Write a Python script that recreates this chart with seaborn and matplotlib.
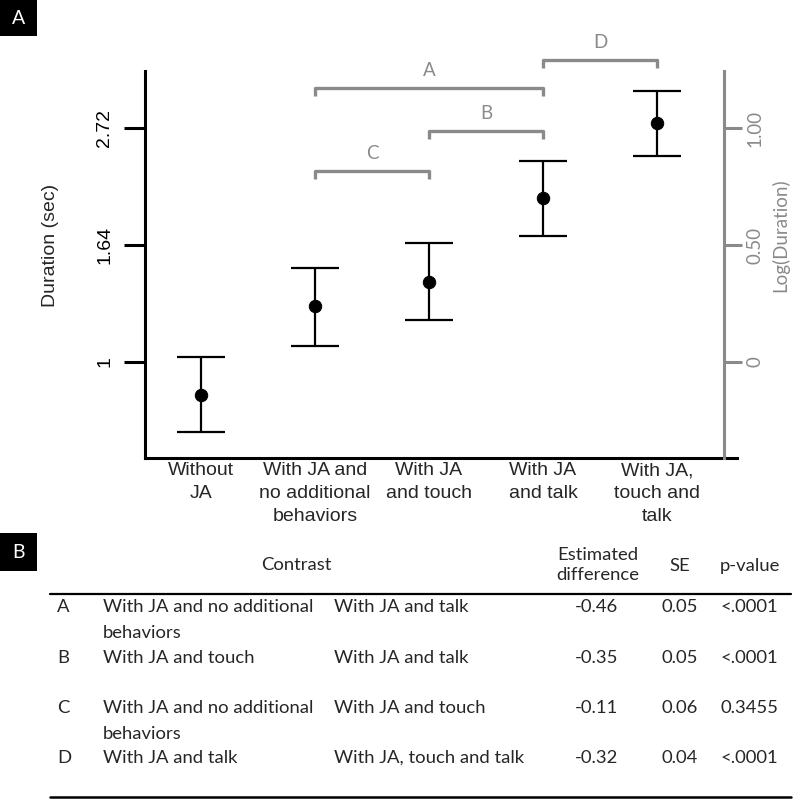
import matplotlib.pyplot as plt
import seaborn as sns
import pandas as pd
from matplotlib.patches import Rectangle

# valores (escala log da duracao)
conditions = ["Without\nJA", "With JA and\nno additional\nbehaviors", "With JA\nand touch",
              "With JA\nand talk", "With JA,\ntouch and\ntalk"]
log_mean = [-0.14, 0.24, 0.34, 0.70, 1.02]
log_lower = [-0.30, 0.07, 0.18, 0.54, 0.88]
log_upper = [0.02, 0.40, 0.51, 0.86, 1.16]

left_ticks = [0, 0.5, 1.0]
left_tick_labels = ["1", "1.64", "2.72"]
right_tick_labels = ["0", "0.50", "1.00"]

# contrastes (tabela B)
contrast_ids = ["A", "B", "C", "D"]
contrast_pairs = [(1, 3), (2, 3), (1, 2), (3, 4)]
group1 = ["With JA and no additional\nbehaviors", "With JA and touch",
          "With JA and no additional\nbehaviors", "With JA and talk"]
group2 = ["With JA and talk", "With JA and talk", "With JA and touch", "With JA, touch and talk"]
est_diff = ["-0.46", "-0.35", "-0.11", "-0.32"]
se = ["0.05", "0.05", "0.06", "0.04"]
p_values = ["<.0001", "<.0001", "0.3455", "<.0001"]

sns.set_style("white")
plt.rcParams["font.family"] = ["Liberation Sans", "DejaVu Sans"]
GRAY = "#8a8a8a"
TFONT = ["Lato", "DejaVu Sans"]
TSIZE = 13.3

W = H = 800.0
fig = plt.figure(figsize=(8, 8), dpi=100)
ax = fig.add_axes([145 / W, 1 - 458 / H, (737 - 145) / W, (458 - 71) / H])

df = pd.DataFrame({"condition": conditions, "log_mean": log_mean,
                   "lower": log_lower, "upper": log_upper})
sns.scatterplot(data=df, x="condition", y="log_mean", ax=ax, color="black",
                s=80, edgecolor="black", zorder=3)
xs = list(range(len(conditions)))
ax.errorbar(xs, df["log_mean"], yerr=[df["log_mean"] - df["lower"], df["upper"] - df["log_mean"]],
            fmt="none", ecolor="black", elinewidth=1.6, capsize=17.5, capthick=1.6, zorder=2)

ax.set_xlim(-0.491, 4.702)
ax.set_ylim(-0.410, 1.2436)
for s in ["top", "right"]:
    ax.spines[s].set_visible(False)
for s in ["left", "bottom"]:
    ax.spines[s].set_linewidth(2.2)
    ax.spines[s].set_color("black")

ax.set_xticks(xs)
ax.set_xticklabels(conditions, fontsize=14, linespacing=1.45)
ax.tick_params(axis="x", length=0, pad=3)
ax.set_xlabel("")

ax.set_yticks(left_ticks)
ax.set_yticklabels(left_tick_labels, rotation=90, va="center", fontsize=14)
ax.tick_params(axis="y", length=15, width=2.2, direction="out", pad=8, colors="black")
ax.set_ylabel("Duration (sec)", fontsize=14)
ax.yaxis.set_label_coords(-0.145, 0.55)

# eixo direito em cinza
ax2 = ax.twinx()
ax2.set_ylim(ax.get_ylim())
for s in ["top", "left", "bottom"]:
    ax2.spines[s].set_visible(False)
ax2.spines["right"].set_position(("axes", (724 - 145) / (737 - 145)))
ax2.spines["right"].set_linewidth(2.2)
ax2.spines["right"].set_color(GRAY)
ax2.set_yticks(left_ticks)
ax2.set_yticklabels(right_tick_labels, rotation=90, va="center", fontsize=13.5, color=GRAY, family=TFONT)
ax2.tick_params(axis="y", length=13, width=2.2, direction="out", pad=3, colors=GRAY)
ax2.set_ylabel("Log(Duration)", fontsize=13.5, color=GRAY, family=TFONT)
ax2.yaxis.set_label_coords(1.058, 0.576)

# colchetes dos contrastes
bracket_levels = {"A": 1.171, "B": 0.987, "C": 0.816, "D": 1.291}
for cid, (i, j) in zip(contrast_ids, contrast_pairs):
    yl = bracket_levels[cid]
    ax.plot([i, i, j, j], [yl - 0.034, yl, yl, yl - 0.034], color=GRAY, lw=2.4,
            clip_on=False, solid_joinstyle="round", solid_capstyle="butt", zorder=1)
    ax.text((i + j) / 2, yl + 0.073, cid, ha="center", va="center", color=GRAY,
            fontsize=13.5, family=TFONT, clip_on=False)

# rotulos dos paineis
for lab, y0, y1 in [("A", 0, 36), ("B", 533, 571)]:
    fig.patches.append(Rectangle((0, 1 - y1 / H), 37 / W, (y1 - y0) / H, transform=fig.transFigure,
                                 facecolor="black", edgecolor="none"))
    fig.text(18.5 / W, 1 - (y0 + y1) / 2 / H, lab, color="white", ha="center", va="center",
             fontsize=14, family=TFONT)

# tabela B
def fy(y):
    return 1 - y / H

fig.text(296 / W, fy(565), "Contrast", ha="center", va="center", fontsize=TSIZE, family=TFONT)
fig.text(598 / W, fy(565), "Estimated\ndifference", ha="center", va="center", fontsize=TSIZE,
         family=TFONT, linespacing=1.35)
fig.text(680 / W, fy(566), "SE", ha="center", va="center", fontsize=TSIZE, family=TFONT)
fig.text(750 / W, fy(566), "p-value", ha="center", va="center", fontsize=TSIZE, family=TFONT)
fig.add_artist(plt.Line2D([50 / W, 791 / W], [fy(594), fy(594)], color="black", lw=1.6))
fig.add_artist(plt.Line2D([50 / W, 791 / W], [fy(797), fy(797)], color="black", lw=1.8))

row_y = [607, 658, 708, 758]
for k, ry in enumerate(row_y):
    fig.text(57 / W, fy(ry), contrast_ids[k], ha="left", va="center", fontsize=TSIZE, family=TFONT)
    for n, line in enumerate(group1[k].split("\n")):
        fig.text(103 / W, fy(ry + 26 * n), line, ha="left", va="center", fontsize=TSIZE, family=TFONT)
    fig.text(334 / W, fy(ry), group2[k], ha="left", va="center", fontsize=TSIZE, family=TFONT)
    fig.text(618 / W, fy(ry), est_diff[k], ha="right", va="center", fontsize=TSIZE, family=TFONT)
    fig.text(698 / W, fy(ry), se[k], ha="right", va="center", fontsize=TSIZE, family=TFONT)
    fig.text(778 / W, fy(ry), p_values[k], ha="right", va="center", fontsize=TSIZE, family=TFONT)

fig.savefig("out.png", dpi=100)
